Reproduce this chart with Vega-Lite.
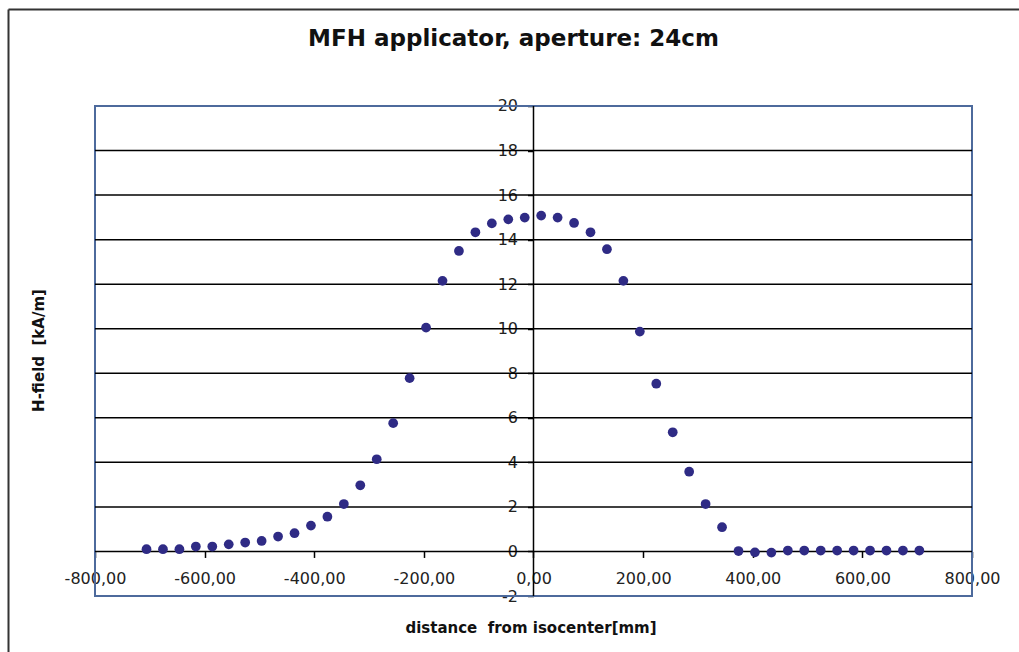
{
  "$schema": "https://vega.github.io/schema/vega-lite/v6.json",
  "width": 1011,
  "height": 643,
  "autosize": {"type": "none"},
  "padding": {"left": 8, "top": 9, "right": 0, "bottom": 0},
  "background": "white",
  "title": {
    "text": "MFH applicator, aperture: 24cm",
    "font": "DejaVu Sans",
    "fontSize": 23,
    "fontWeight": "bold",
    "color": "#111111",
    "anchor": "middle",
    "frame": "group",
    "baseline": "alphabetic",
    "offset": -60
  },
  "config": {"view": {"stroke": null}},
  "datasets": {
    "frame": [{"x": -800, "x2": 800, "y": -2, "y2": 20}],
    "lines": [
      {"x": -800, "x2": 800, "y": 0, "y2": 0},
      {"x": -800, "x2": 800, "y": 2, "y2": 2},
      {"x": -800, "x2": 800, "y": 4, "y2": 4},
      {"x": -800, "x2": 800, "y": 6, "y2": 6},
      {"x": -800, "x2": 800, "y": 8, "y2": 8},
      {"x": -800, "x2": 800, "y": 10, "y2": 10},
      {"x": -800, "x2": 800, "y": 12, "y2": 12},
      {"x": -800, "x2": 800, "y": 14, "y2": 14},
      {"x": -800, "x2": 800, "y": 16, "y2": 16},
      {"x": -800, "x2": 800, "y": 18, "y2": 18},
      {"x": 0, "x2": 0, "y": -2, "y2": 20}
    ],
    "points": [
      {"distance": -706, "field": 0.10},
      {"distance": -676, "field": 0.10},
      {"distance": -646, "field": 0.10},
      {"distance": -616, "field": 0.22},
      {"distance": -586, "field": 0.22},
      {"distance": -556, "field": 0.32},
      {"distance": -526, "field": 0.40},
      {"distance": -496, "field": 0.47},
      {"distance": -466, "field": 0.67},
      {"distance": -436, "field": 0.82},
      {"distance": -406, "field": 1.16},
      {"distance": -376, "field": 1.56},
      {"distance": -346, "field": 2.13},
      {"distance": -316, "field": 2.97},
      {"distance": -286, "field": 4.14},
      {"distance": -256, "field": 5.76},
      {"distance": -226, "field": 7.78},
      {"distance": -196, "field": 10.05},
      {"distance": -166, "field": 12.15},
      {"distance": -136, "field": 13.49},
      {"distance": -106, "field": 14.33},
      {"distance": -76, "field": 14.73},
      {"distance": -46, "field": 14.91},
      {"distance": -16, "field": 14.99},
      {"distance": 14, "field": 15.08},
      {"distance": 44, "field": 14.99},
      {"distance": 74, "field": 14.75},
      {"distance": 104, "field": 14.33},
      {"distance": 134, "field": 13.57},
      {"distance": 164, "field": 12.15},
      {"distance": 194, "field": 9.87},
      {"distance": 224, "field": 7.53},
      {"distance": 254, "field": 5.35},
      {"distance": 284, "field": 3.58},
      {"distance": 314, "field": 2.13},
      {"distance": 344, "field": 1.09},
      {"distance": 374, "field": 0.02},
      {"distance": 404, "field": -0.04},
      {"distance": 434, "field": -0.05},
      {"distance": 464, "field": 0.04},
      {"distance": 494, "field": 0.04},
      {"distance": 524, "field": 0.04},
      {"distance": 554, "field": 0.04},
      {"distance": 584, "field": 0.04},
      {"distance": 614, "field": 0.04},
      {"distance": 644, "field": 0.04},
      {"distance": 674, "field": 0.04},
      {"distance": 704, "field": 0.04}
    ]
  },
  "resolve": {"axis": {"x": "independent", "y": "independent"}},
  "layer": [
    {
      "data": {"name": "frame"},
      "mark": {"type": "rect", "filled": false, "stroke": "#4d6a9c", "strokeWidth": 2},
      "encoding": {
        "x": {
          "field": "x", "type": "quantitative",
          "scale": {"domain": [-958.72, 885.75], "nice": false, "zero": false},
          "axis": {"orient": "top", "labels": false, "ticks": false, "grid": false, "title": null, "domain": true, "domainColor": "#333333", "domainWidth": 2}
        },
        "x2": {"field": "x2"},
        "y": {
          "field": "y", "type": "quantitative",
          "scale": {"domain": [-4.514, 24.355], "nice": false, "zero": false},
          "axis": {"orient": "left", "labels": false, "ticks": false, "grid": false, "title": null, "domain": true, "domainColor": "#333333", "domainWidth": 2}
        },
        "y2": {"field": "y2"}
      }
    },
    {
      "data": {"name": "lines"},
      "mark": {"type": "rule", "color": "#000000", "strokeWidth": 1.5},
      "encoding": {
        "x": {"field": "x", "type": "quantitative", "axis": null},
        "x2": {"field": "x2"},
        "y": {"field": "y", "type": "quantitative", "axis": null},
        "y2": {"field": "y2"}
      }
    },
    {
      "data": {"name": "points"},
      "mark": {"type": "circle", "color": "#2f2b85", "size": 95, "opacity": 1},
      "encoding": {
        "x": {
          "field": "distance", "type": "quantitative",
          "axis": {
            "orient": "bottom", "offset": -100.55, "domain": false, "grid": false,
            "values": [-800, -600, -400, -200, 0, 200, 400, 600, 800],
            "labelExpr": "datum.value + ',00'",
            "tickSize": 6, "tickColor": "#000000", "tickWidth": 1.5,
            "labelFont": "DejaVu Sans", "labelFontSize": 16, "labelColor": "#222222", "labelPadding": 13,
            "title": "distance \u00a0from isocenter[mm]",
            "titleFont": "DejaVu Sans", "titleFontSize": 15, "titleFontWeight": "bold", "titleColor": "#111111",
            "titleX": 522.5, "titleY": 81.5, "titleAlign": "center", "titleBaseline": "alphabetic"
          }
        },
        "y": {
          "field": "field", "type": "quantitative",
          "axis": {
            "orient": "left", "offset": -525.5, "domain": false, "grid": false,
            "values": [-2, 0, 2, 4, 6, 8, 10, 12, 14, 16, 18, 20],
            "labelExpr": "'' + datum.value",
            "tickSize": 6, "tickColor": "#000000", "tickWidth": 1.5,
            "labelFont": "DejaVu Sans", "labelFontSize": 16, "labelColor": "#222222", "labelPadding": 10,
            "title": "H-field \u00a0[kA/m]",
            "titleFont": "DejaVu Sans", "titleFontSize": 15, "titleFontWeight": "bold", "titleColor": "#111111",
            "titleAngle": -90, "titleX": -495, "titleY": 341, "titleAlign": "center", "titleBaseline": "middle"
          }
        }
      }
    }
  ]
}
